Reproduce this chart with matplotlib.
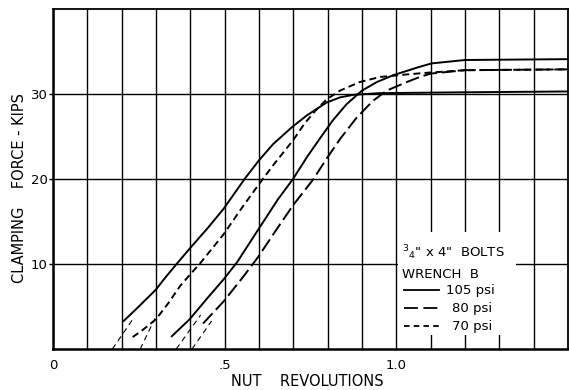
import numpy as np
import matplotlib.pyplot as plt
from matplotlib.patches import Rectangle

plt.rcParams['font.family'] = ['DejaVu Sans']
plt.rcParams['lines.scale_dashes'] = False

# Curves (nut revolutions, clamping force in kips)
x_s1 = [0.206, 0.25, 0.30, 0.327, 0.36, 0.40, 0.45, 0.497, 0.558, 0.60, 0.641, 0.696,
        0.74, 0.778, 0.797, 0.836, 0.874, 0.95, 1.2, 1.5]
y_s1 = [3.3, 5.0, 7.0, 8.4, 10.0, 11.9, 14.2, 16.5, 20.0, 22.2, 24.1, 26.1,
        27.5, 28.5, 29.0, 29.6, 29.9, 30.1, 30.2, 30.3]

x_d1 = [0.232, 0.26, 0.30, 0.336, 0.37, 0.40, 0.427, 0.497, 0.55, 0.60, 0.641, 0.70,
        0.734, 0.768, 0.798, 0.836, 0.893, 0.952, 1.03, 1.09, 1.2, 1.5]
y_d1 = [1.4, 2.2, 3.5, 5.4, 7.4, 8.8, 10.0, 13.5, 16.6, 19.4, 21.6, 24.6,
        26.6, 28.2, 29.4, 30.4, 31.4, 32.0, 32.3, 32.5, 32.8, 32.9]

x_s2 = [0.346, 0.398, 0.45, 0.497, 0.536, 0.597, 0.655, 0.699, 0.74, 0.778, 0.815,
        0.855, 0.90, 0.943, 0.99, 1.068, 1.103, 1.2, 1.5]
y_s2 = [1.5, 3.5, 6.0, 8.2, 10.2, 14.0, 17.6, 20.0, 22.6, 24.8, 26.9,
        28.8, 30.4, 31.4, 32.2, 33.2, 33.6, 34.0, 34.1]

x_d2 = [0.437, 0.497, 0.554, 0.597, 0.65, 0.699, 0.757, 0.797, 0.836, 0.884, 0.932,
        0.972, 1.03, 1.068, 1.1, 1.2, 1.5]
y_d2 = [3.0, 5.6, 8.5, 10.8, 14.0, 16.9, 19.9, 22.4, 24.7, 27.2, 29.2,
        30.4, 31.4, 32.0, 32.4, 32.8, 32.9]

# extrapolated starts down to zero load
ext_x = [[0.173, 0.234], [0.254, 0.297], [0.359, 0.43], [0.405, 0.462]]
ext_y = [[0.0, 3.6], [0.0, 3.6], [0.0, 4.0], [0.0, 3.3]]

legend_labels = ['105 psi', '80 psi', '70 psi']

fig = plt.figure(figsize=(5.69, 3.90), dpi=100)
ax = fig.add_axes([53 / 569, 41 / 390, 515 / 569, 340 / 390])

ax.set_xlim(0, 1.5)
ax.set_ylim(0, 40)

ax.set_xticks([0, 0.5, 1.0])
ax.set_xticklabels(['0', '.5', '1.0'])
ax.set_xticks(np.arange(0.1, 1.5, 0.1), minor=True)
ax.set_yticks([10, 20, 30])
ax.tick_params(axis='x', which='both', length=0, pad=7, labelsize=9.5)
ax.tick_params(axis='y', length=3, width=1, pad=1, labelsize=9.5)

ax.grid(True, axis='x', which='both', color='black', lw=1.0)
ax.grid(True, axis='y', which='major', color='black', lw=1.0)
ax.set_axisbelow(True)

for side in ['left', 'bottom']:
    ax.spines[side].set_linewidth(1.8)
for side in ['top', 'right']:
    ax.spines[side].set_linewidth(1.3)

# white area behind the legend text
ax.add_patch(Rectangle((1.006, 1.6), 0.342, 12.2, facecolor='white',
                       edgecolor='none', zorder=1))

ax.plot(x_s1, y_s1, color='black', lw=1.4, zorder=2)
ax.plot(x_d1, y_d1, color='black', lw=1.4, dashes=(5, 3), zorder=2)
ax.plot(x_s2, y_s2, color='black', lw=1.4, zorder=2)
ax.plot(x_d2, y_d2, color='black', lw=1.4, dashes=(10, 3.5), zorder=2)
for ex, ey in zip(ext_x, ext_y):
    ax.plot(ex, ey, color='black', lw=0.8, dashes=(4, 3), zorder=2)

# legend drawn by hand
ax.text(1.016, 11.3, '${}^{3}{}_{4}$" x 4"  BOLTS', fontsize=9.5, va='center', zorder=3)
ax.text(1.016, 8.8, 'WRENCH  B', fontsize=9.5, va='center', zorder=3)
leg_y = [6.9, 4.8, 2.7]
leg_dash = [None, (10, 4), (4, 3)]
leg_tx = [1.144, 1.162, 1.162]
for ly, ld, lt, lab in zip(leg_y, leg_dash, leg_tx, legend_labels):
    if ld is None:
        ax.plot([1.022, 1.123], [ly, ly], color='black', lw=1.3, zorder=3)
    else:
        ax.plot([1.022, 1.123], [ly, ly], color='black', lw=1.3, dashes=ld, zorder=3)
    ax.text(lt, ly, lab, fontsize=9.5, va='center', zorder=3)

fig.text(307 / 569, 1 / 390, 'NUT    REVOLUTIONS', ha='center', va='bottom', fontsize=10.5)
fig.text(20 / 569, 0.518, 'CLAMPING    FORCE - KIPS', rotation=90,
         ha='center', va='center', fontsize=10.5)

fig.savefig('out.png', dpi=100)
